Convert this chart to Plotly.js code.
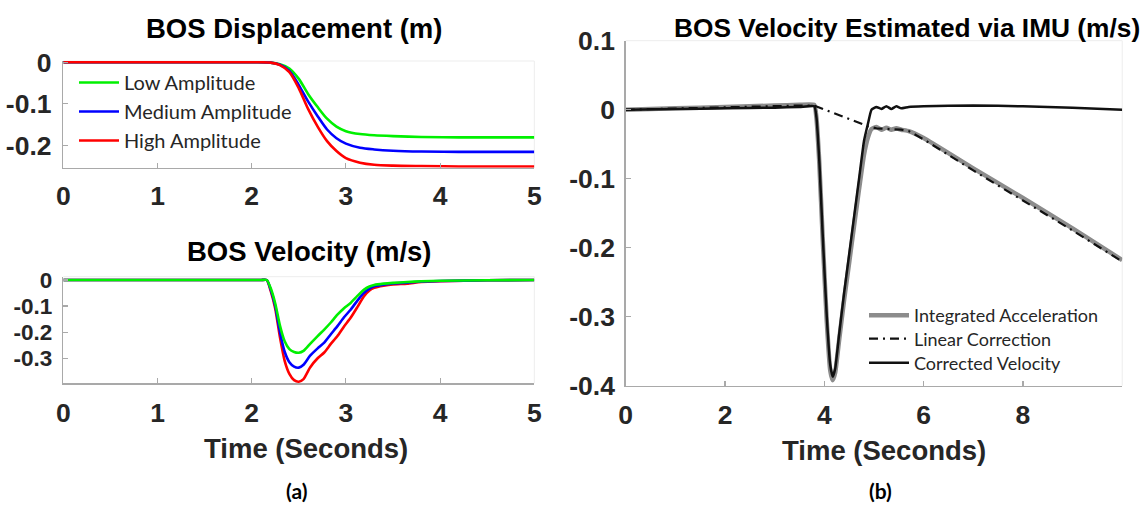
<!DOCTYPE html>
<html><head><meta charset="utf-8">
<script src="https://cdn.plot.ly/plotly-3.0.1.min.js"></script>
<style>html,body{margin:0;padding:0;background:#fff;} #chart{width:1146px;height:506px;}</style>
</head><body><div id="chart"></div>
<script>
// ---------- data ----------
const dispTime   = [0, 1, 2, 2.2, 2.3, 2.4, 2.5, 2.6, 2.7, 2.8, 2.9, 3.0, 3.15, 3.3, 3.5, 3.8, 4.2, 5.0];
const dispLow    = [0, 0, 0, -0.001, -0.005, -0.015, -0.040, -0.077, -0.108, -0.136, -0.155, -0.166, -0.173, -0.176, -0.178, -0.180, -0.181, -0.181];
const dispMedium = [0, 0, 0, -0.001, -0.006, -0.021, -0.055, -0.095, -0.130, -0.162, -0.183, -0.196, -0.206, -0.210, -0.213, -0.215, -0.216, -0.216];
const dispHigh   = [0, 0, 0, -0.001, -0.007, -0.024, -0.063, -0.113, -0.155, -0.190, -0.214, -0.231, -0.242, -0.247, -0.249, -0.250, -0.251, -0.251];

const velTime   = [0, 1, 2, 2.1, 2.16, 2.2, 2.25, 2.3, 2.35, 2.4, 2.45, 2.5, 2.55, 2.62, 2.7, 2.77, 2.84, 2.91, 2.98, 3.05, 3.12, 3.19, 3.25, 3.3, 3.4, 3.5, 3.65, 3.8, 4.0, 4.5, 5.0];
const velLow    = [0, 0, 0, 0, 0, -0.030, -0.090, -0.175, -0.235, -0.265, -0.276, -0.279, -0.272, -0.245, -0.215, -0.190, -0.163, -0.133, -0.108, -0.088, -0.062, -0.038, -0.025, -0.019, -0.014, -0.011, -0.008, -0.005, -0.003, -0.001, 0];
const velMedium = [0, 0, 0, 0, 0, -0.035, -0.100, -0.200, -0.275, -0.315, -0.332, -0.336, -0.325, -0.290, -0.262, -0.240, -0.208, -0.177, -0.143, -0.114, -0.080, -0.050, -0.033, -0.024, -0.018, -0.013, -0.010, -0.006, -0.004, -0.001, 0];
const velHigh   = [0, 0, 0, 0, 0, -0.040, -0.110, -0.220, -0.310, -0.360, -0.384, -0.390, -0.380, -0.335, -0.300, -0.278, -0.245, -0.215, -0.178, -0.145, -0.105, -0.063, -0.040, -0.030, -0.022, -0.017, -0.014, -0.008, -0.005, -0.001, 0];

const imuTime       = [0, 1, 2, 3, 3.5, 3.8, 3.84, 3.9, 3.97, 4.05, 4.12, 4.17, 4.22, 4.3, 4.4, 4.5, 4.6, 4.7, 4.8, 4.88, 4.95, 5.05, 5.15, 5.25, 5.35, 5.45, 5.55, 5.7, 6, 7, 8, 9, 10];
const imuIntegrated = [0, 0.002, 0.004, 0.006, 0.007, 0.007, -0.011, -0.078, -0.190, -0.307, -0.378, -0.392, -0.381, -0.333, -0.275, -0.222, -0.168, -0.115, -0.065, -0.040, -0.028, -0.025, -0.029, -0.026, -0.029, -0.027, -0.029, -0.031, -0.041, -0.085, -0.128, -0.172, -0.218];
const imuCorrected  = [0, 0.001, 0.002, 0.003, 0.004, 0.005, -0.010, -0.075, -0.185, -0.300, -0.370, -0.387, -0.375, -0.325, -0.265, -0.210, -0.155, -0.100, -0.045, -0.020, 0, 0.004, 0.001, 0.005, 0.001, 0.005, 0.002, 0.004, 0.005, 0.006, 0.005, 0.003, 0];
const linTime       = [0, 1, 2, 3, 3.5, 3.8, 4.88, 5.05, 5.3, 5.55, 5.7, 6, 7, 8, 9, 10];
const linCorrection = [0, 0.002, 0.003, 0.005, 0.006, 0.006, -0.024, -0.027, -0.028, -0.029, -0.031, -0.043, -0.088, -0.131, -0.175, -0.220];

const ampNames = ['Low Amplitude', 'Medium Amplitude', 'High Amplitude'];
const ampColors = ['#00f000', '#0000ff', '#ff0000'];
const imuNames = ['Integrated Acceleration', 'Linear Correction', 'Corrected Velocity'];

const leftXTicks  = [0, 1, 2, 3, 4, 5];
const rightXTicks = [0, 2, 4, 6, 8];
const dispYTicks = [0, -0.1, -0.2];           const dispYText = ['0', '-0.1', '-0.2'];
const velYTicks  = [0, -0.1, -0.2, -0.3];     const velYText  = ['0', '-0.1', '-0.2', '-0.3'];
const imuYTicks  = [0.1, 0, -0.1, -0.2, -0.3, -0.4]; const imuYText = ['0.1', '0', '-0.1', '-0.2', '-0.3', '-0.4'];

const titles = ['BOS Displacement (m)', 'BOS Velocity (m/s)', 'BOS Velocity Estimated via IMU (m/s)'];
const xTitle = 'Time (Seconds)';
const panelLabels = ['(a)', '(b)'];

// ---------- layout helpers ----------
const W = 1146, H = 506;
const fx = p => p / W;
const fy = p => 1 - p / H;
const ARIAL = 'Liberation Sans, Arial, sans-serif';
const CAL = 'Lato, Open Sans, sans-serif';

function ax(extra) {
  return Object.assign({
    showline: true, linecolor: '#a9a9a9', linewidth: 1.5,
    ticks: 'inside', ticklen: 5, tickwidth: 1.2, tickcolor: '#a9a9a9',
    showgrid: false, zeroline: false, fixedrange: true,
    tickfont: {family: ARIAL, size: 26.5, color: '#262626', weight: 700}
  }, extra);
}

const traces = [];
const dispSeries = [dispLow, dispMedium, dispHigh];
const velSeries = [velLow, velMedium, velHigh];
const groups = ['g1', 'g2', 'g3'];
for (let i = 0; i < 3; i++) {
  traces.push({x: dispTime, y: dispSeries[i], type: 'scatter', mode: 'lines', name: ampNames[i],
    line: {color: ampColors[i], width: 2.6, shape: 'spline', smoothing: 0.8},
    xaxis: 'x', yaxis: 'y', legend: 'legend', legendgroup: groups[i]});
}
for (let i = 2; i >= 0; i--) {
  traces.push({x: velTime, y: velSeries[i], type: 'scatter', mode: 'lines', name: ampNames[i],
    line: {color: ampColors[i], width: 2.6, shape: 'spline', smoothing: 0.6},
    xaxis: 'x2', yaxis: 'y2', showlegend: false});
}
traces.push({x: imuTime, y: imuIntegrated, type: 'scatter', mode: 'lines', name: imuNames[0],
  line: {color: '#8c8c8c', width: 4.5, shape: 'spline', smoothing: 0.4},
  xaxis: 'x3', yaxis: 'y3', legend: 'legend2'});
traces.push({x: linTime, y: linCorrection, type: 'scatter', mode: 'lines', name: imuNames[1],
  line: {color: '#111111', width: 2.2, dash: '9px,5px,2px,5px'},
  xaxis: 'x3', yaxis: 'y3', legend: 'legend3'});
traces.push({x: imuTime, y: imuCorrected, type: 'scatter', mode: 'lines', name: imuNames[2],
  line: {color: '#111111', width: 2.5, shape: 'spline', smoothing: 0.4},
  xaxis: 'x3', yaxis: 'y3', legend: 'legend4'});

function border(xr, yr) {
  return [
    {type: 'line', xref: xr + ' domain', yref: yr + ' domain', x0: 0, x1: 1, y0: 1, y1: 1, line: {color: '#ededed', width: 1}, layer: 'below'},
    {type: 'line', xref: xr + ' domain', yref: yr + ' domain', x0: 1, x1: 1, y0: 0, y1: 1, line: {color: '#ededed', width: 1}, layer: 'below'}
  ];
}

function ann(text, x, y, size, bold, color, family) {
  return {text: text, xref: 'paper', yref: 'paper', x: fx(x), y: fy(y), xanchor: 'center', yanchor: 'middle',
    showarrow: false, font: {family: family || ARIAL, size: size, color: color, weight: bold ? 700 : 400}};
}

function rightLegend(top) {
  return {x: fx(864), y: fy(top), xanchor: 'left', yanchor: 'top', bgcolor: 'rgba(0,0,0,0)', borderwidth: 0,
    font: {family: CAL, size: 18, color: '#262626'}, itemwidth: 40};
}

const layout = {
  width: W, height: H, margin: {l: 0, r: 0, t: 0, b: 0},
  paper_bgcolor: '#ffffff', plot_bgcolor: '#ffffff', showlegend: true, hovermode: false,
  xaxis: ax({domain: [fx(63.3), fx(534.3)], range: [0, 5], tickvals: leftXTicks, anchor: 'y', ticklabelstandoff: 4}),
  yaxis: ax({domain: [fy(167.7), fy(61)], range: [-0.254, 0.003], tickvals: dispYTicks, ticktext: dispYText, anchor: 'x', ticklabelstandoff: 5}),
  xaxis2: ax({domain: [fx(63.3), fx(534.3)], range: [0, 5], tickvals: leftXTicks, anchor: 'y2', ticklabelstandoff: 5}),
  yaxis2: ax({domain: [fy(383.3), fy(276.7)], range: [-0.396, 0.0126], tickvals: velYTicks, ticktext: velYText, anchor: 'x2', ticklabelstandoff: 5,
    tickfont: {family: ARIAL, size: 22.5, color: '#262626', weight: 700}}),
  xaxis3: ax({domain: [fx(625.7), fx(1122.2)], range: [0, 10], tickvals: rightXTicks, anchor: 'y3', ticklabelstandoff: 5}),
  yaxis3: ax({domain: [fy(385.7), fy(40.7)], range: [-0.4, 0.1], tickvals: imuYTicks, ticktext: imuYText, anchor: 'x3', ticklabelstandoff: 4}),
  legend: {x: fx(74), y: fy(63), xanchor: 'left', yanchor: 'top', bgcolor: 'rgba(0,0,0,0)', borderwidth: 0,
    font: {family: CAL, size: 20, color: '#262626'}, tracegroupgap: 0, itemwidth: 40},
  legend2: rightLegend(297),
  legend3: rightLegend(320.5),
  legend4: rightLegend(344.5),
  shapes: [].concat(border('x', 'y'), border('x2', 'y2'), border('x3', 'y3')),
  annotations: [
    ann(titles[0], 294, 28, 27.5, true, '#000000'),
    ann(titles[1], 309, 251.5, 27.5, true, '#000000'),
    ann(titles[2], 906.5, 28, 26.3, true, '#000000'),
    ann(xTitle, 306, 448, 27.5, true, '#262626'),
    ann(xTitle, 884, 450, 27.5, true, '#262626'),
    ann(panelLabels[0], 296, 490, 21, true, '#000000', CAL),
    ann(panelLabels[1], 880, 490, 21, true, '#000000', CAL)
  ]
};

Plotly.newPlot('chart', traces, layout, {staticPlot: true, displayModeBar: false});
</script>
</body></html>
